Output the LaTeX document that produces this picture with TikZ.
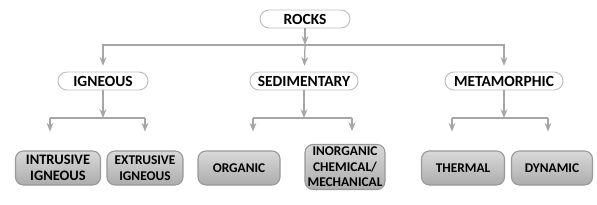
\documentclass[tikz,border=0pt]{standalone}
\usepackage{fontspec}
\setmainfont{Carlito}
\usepackage{tikz}
\usetikzlibrary{arrows.meta,calc,positioning,shadings}

\begin{document}
\begin{tikzpicture}[
  x=0.025cm, y=-0.025cm,
  pill/.style={draw=gray!50, fill=white, line width=0.7pt, rounded corners=0.225cm, minimum height=0.45cm, inner sep=1pt, font=\fontsize{11}{12}\selectfont\bfseries},
  leaf/.style={draw=gray!80, line width=0.8pt, top color=gray!30, bottom color=gray!65, rounded corners=0.2cm, minimum height=0.85cm, inner sep=1pt, align=center, font=\fontsize{9.5}{11}\selectfont\bfseries},
  arr/.style={-{Stealth[length=2.2mm, width=1.7mm]}, gray!70, line width=0.9pt},
  bar/.style={gray!70, line width=0.9pt}
]
  \useasboundingbox (0,0) rectangle (597,204);

  % top level
  \node[pill, minimum width=2.25cm] (rocks) at (305,19) {ROCKS};
  \node[pill, minimum width=2.25cm] (igneous) at (103,81) {IGNEOUS};
  \node[pill, minimum width=2.7cm] (sedimentary) at (304,81) {SEDIMENTARY};
  \node[pill, minimum width=2.95cm] (metamorphic) at (504,81) {METAMORPHIC};

  % leaves
  \node[leaf, minimum width=2.125cm, font=\fontsize{10.3}{11.5}\selectfont\bfseries] (intrusive) at (58,168) {INTRUSIVE\\IGNEOUS};
  \node[leaf, minimum width=1.9cm] (extrusive) at (145,168) {EXTRUSIVE\\IGNEOUS};
  \node[leaf, minimum width=2.05cm] (organic) at (239,168) {ORGANIC};
  \node[leaf, minimum width=2.0cm, minimum height=1.125cm] (inorganic) at (345,167) {INORGANIC\\CHEMICAL/\\MECHANICAL};
  \node[leaf, minimum width=2.075cm] (thermal) at (463,168) {THERMAL};
  \node[leaf, minimum width=2.025cm] (dynamic) at (552,168) {DYNAMIC};

  % bars
  \coordinate (top) at (305,45);
  \coordinate (igL) at (50,118);
  \coordinate (igR) at (145,118);
  \coordinate (sdL) at (253,118);
  \coordinate (sdR) at (352,118);
  \coordinate (mtL) at (452,118);
  \coordinate (mtR) at (548,118);

  \draw[arr] (rocks) -- (top);
  \draw[arr, shorten >=4pt] (top) -| (igneous);
  \draw[arr, shorten >=4pt] (top) -- (sedimentary);
  \draw[arr, shorten >=4pt] (top) -| (metamorphic);

  \draw[arr] (igneous) -- (igneous |- igL);
  \draw[arr] (sedimentary) -- (sedimentary |- sdL);
  \draw[arr] (metamorphic) -- (metamorphic |- mtL);
  \draw[bar] (igL) -- (igR);
  \draw[bar] (sdL) -- (sdR);
  \draw[bar] (mtL) -- (mtR);

  \draw[arr, shorten >=0.47cm] (igL) -- (igL |- intrusive.north);
  \draw[arr, shorten >=0.47cm] (igR) -- (igR |- extrusive.north);
  \draw[arr, shorten >=0.47cm] (sdL) -- (sdL |- organic.north);
  \draw[arr, shorten >=0.32cm] (sdR) -- (sdR |- inorganic.north);
  \draw[arr, shorten >=0.47cm] (mtL) -- (mtL |- thermal.north);
  \draw[arr, shorten >=0.47cm] (mtR) -- (mtR |- dynamic.north);
\end{tikzpicture}
\end{document}
